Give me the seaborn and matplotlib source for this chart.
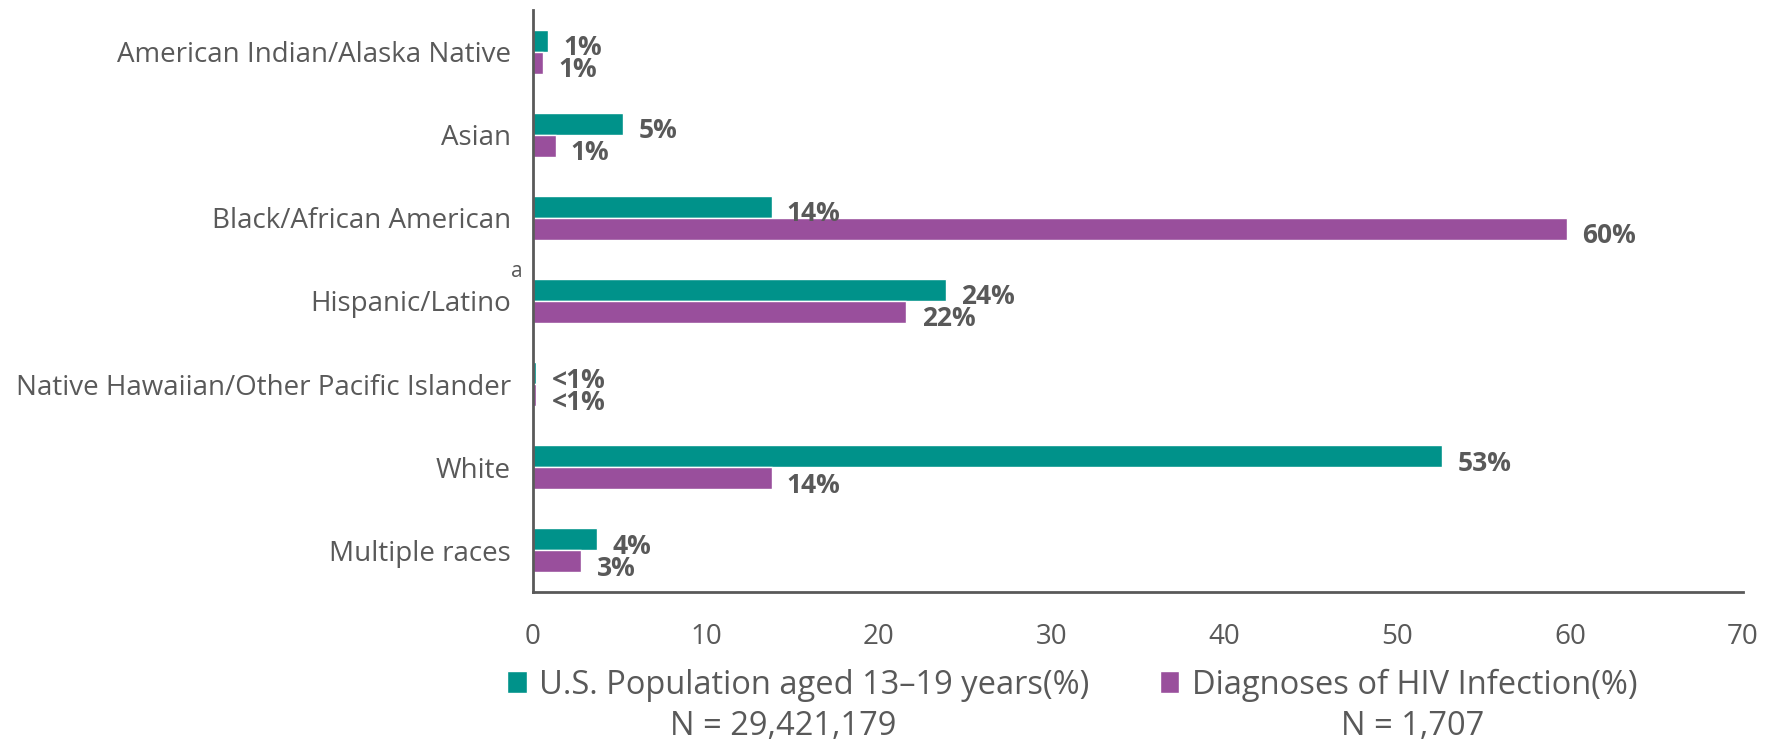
import numpy as np
import pandas as pd
import matplotlib
matplotlib.use('Agg')
import matplotlib.pyplot as plt
import matplotlib.transforms as mtransforms
import seaborn as sns

# data
groups = ['American Indian/Alaska Native', 'Asian', 'Black/African American',
          'Hispanic/Latino', 'Native Hawaiian/Other Pacific Islander', 'White',
          'Multiple races']
pop_pct = [0.85, 5.2, 13.8, 23.9, 0.2, 52.6, 3.7]
hiv_pct = [0.6, 1.3, 59.8, 21.6, 0.2, 13.8, 2.8]
pop_labels = ['1%', '5%', '14%', '24%', '<1%', '53%', '4%']
hiv_labels = ['1%', '1%', '60%', '22%', '<1%', '14%', '3%']
series = ['U.S. Population aged 13\u201319 years(%)', 'Diagnoses of HIV Infection(%)']
series_n = ['N = 29,421,179', 'N = 1,707']

teal = '#00928A'
purple = '#994F9C'
grey = '#595959'

sns.set_style('white')
plt.rcParams['font.family'] = ['Open Sans', 'DejaVu Sans']

df = pd.DataFrame({
    'group': groups * 2,
    'pct': pop_pct + hiv_pct,
    'series': [series[0]] * len(groups) + [series[1]] * len(groups),
})

fig = plt.figure(figsize=(17.75, 7.41), dpi=100)
ax = fig.add_axes([0.3003, 0.2011, 0.6817, 0.7854])

sns.barplot(data=df, y='group', x='pct', hue='series', orient='h',
            palette=[teal, purple], width=0.53, order=groups,
            hue_order=series, ax=ax, saturation=1)

# data labels (sit a little low, like the original)
for cont, labs in zip(ax.containers, [pop_labels, hiv_labels]):
    anns = ax.bar_label(cont, labels=labs, padding=11, fontsize=19,
                        fontweight='bold', color=grey)
    for a in anns:
        a.xyann = (11, -5)

ax.set_xlim(0, 70)
ax.set_ylim(len(groups) - 0.5, -0.5)
ax.set_xticks(np.arange(0, 71, 10))
ax.set_xlabel('')
ax.set_ylabel('')

# category boundary ticks like excel
ax.set_yticks(np.arange(-0.5, len(groups), 1), minor=True)
ax.tick_params(axis='y', which='major', length=0, labelsize=20, labelcolor=grey, pad=16)
ax.tick_params(axis='y', which='minor', length=7, width=2, color=grey)
ax.tick_params(axis='x', which='major', length=6.5, width=2, color=grey,
               labelsize=20, labelcolor=grey, pad=16)

sns.despine(ax=ax)
for s in ['left', 'bottom']:
    ax.spines[s].set_color(grey)
    ax.spines[s].set_linewidth(2)

# footnote marker next to Hispanic/Latino
trans = mtransforms.blended_transform_factory(ax.transAxes, ax.transData)
ax.text(-0.013, 2.645, 'a', transform=trans, fontsize=15, color=grey,
        ha='center', va='center')

# legend
h, l = ax.get_legend_handles_labels()
ax.legend(h, l, loc='center', bbox_to_anchor=(0.604, 0.0756),
          bbox_transform=fig.transFigure, ncol=2, frameon=False,
          fontsize=23.5, labelcolor=grey, handlelength=0.61, handleheight=0.65,
          handletextpad=0.37, columnspacing=2.15, borderpad=0, borderaxespad=0)

fig.text(0.441, 0.019, series_n[0], fontsize=23.5, color=grey, ha='center', va='center')
fig.text(0.796, 0.019, series_n[1], fontsize=23.5, color=grey, ha='center', va='center')

fig.savefig('out.png', dpi=100)
